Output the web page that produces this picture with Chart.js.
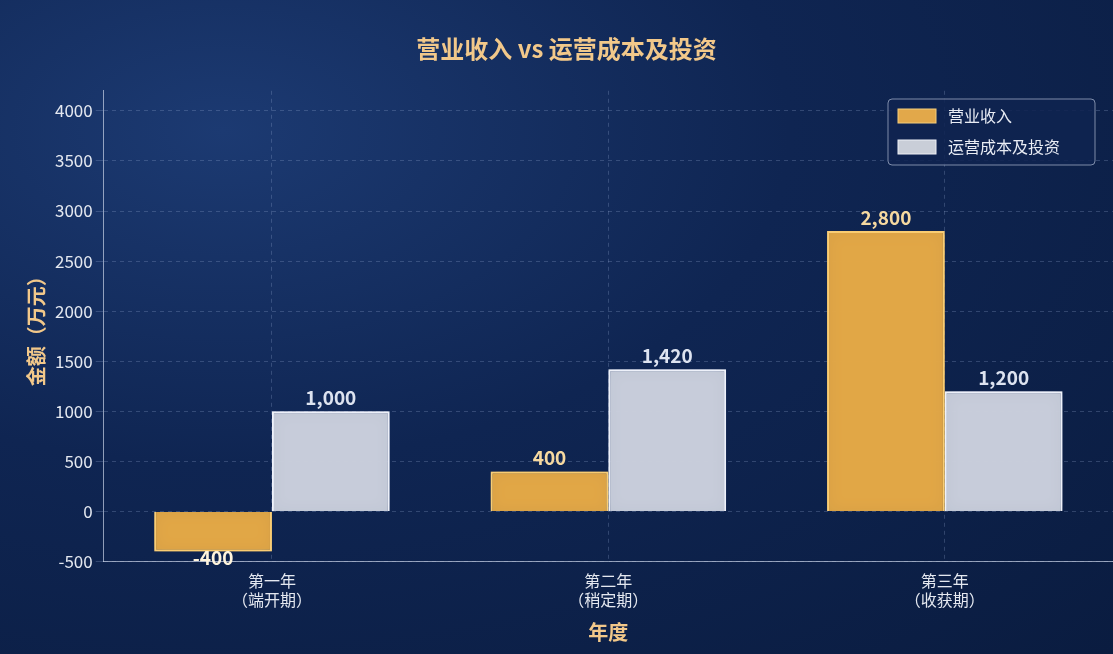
<!DOCTYPE html>
<html><head><meta charset="utf-8">
<script src="https://cdn.jsdelivr.net/npm/chart.js@4"></script>
<style>
html,body{margin:0;padding:0;width:1113px;height:654px;overflow:hidden;
background:radial-gradient(ellipse at 20% 20%,#1c3a72 0%,#0f2552 45%,#0a1c40 100%);}
#c{width:1113px;height:654px}
</style></head><body>
<canvas id="c" width="1113" height="654"></canvas>
<script>
const categories=[['第一年','（端开期）'],['第二年','（稍定期）'],['第三年','（收获期）']];
const revenue=[-400,400,2800];
const costs=[1000,1420,1200];
const seriesNames=['营业收入','运营成本及投资'];
const FONT='"Noto Sans CJK SC","Noto Sans",sans-serif';
const glow={id:'glow',
 beforeDatasetDraw(ch,a){const c=ch.ctx;c.save();c.shadowBlur=14;c.shadowColor=a.index===0?'rgba(255,200,90,0.9)':'rgba(230,235,255,0.8)';},
 afterDatasetDraw(ch){ch.ctx.restore();},
 afterDatasetsDraw(ch){const c=ch.ctx;c.save();c.font='bold 19px '+FONT;c.textAlign='center';
  ch.data.datasets.forEach((d,i)=>{ch.getDatasetMeta(i).data.forEach((b,j)=>{const v=d.data[j];
   c.fillStyle=i===0?(v<0?'#fff4dc':'#f6d9a0'):'#dde3f0';
   const t=v.toLocaleString('en-US');
   if(v<0){c.textBaseline='middle';c.fillText(t,b.x,b.y+6);}else{c.textBaseline='bottom';c.fillText(t,b.x,b.y-4);}
  });});
  const x=888,y=99,w=207,h=66;c.fillStyle='rgba(15,35,80,0.85)';c.strokeStyle='rgba(200,210,230,0.6)';c.lineWidth=1;
  c.beginPath();c.roundRect(x,y,w,h,4);c.fill();c.stroke();
  c.font='16px '+FONT;c.textAlign='left';c.textBaseline='middle';
  [['#e2a84a','#f5cd7a'],['#c9ced8','#eef0f5']].forEach((col,i)=>{const yy=y+17+i*31;
   c.fillStyle=col[0];c.strokeStyle=col[1];c.fillRect(x+10,yy-7,38,14);c.strokeRect(x+10,yy-7,38,14);
   c.fillStyle='#e8ecf4';c.fillText(seriesNames[i],x+60,yy);});
  c.restore();}};
new Chart(document.getElementById('c'),{type:'bar',
 data:{labels:categories,datasets:[
  {label:seriesNames[0],data:revenue,backgroundColor:'rgba(226,166,70,0.95)',borderColor:'#f7cf80',borderWidth:2},
  {label:seriesNames[1],data:costs,backgroundColor:'rgba(200,206,218,0.95)',borderColor:'#f2f4f8',borderWidth:2}]},
 options:{responsive:false,animation:false,devicePixelRatio:1,
  layout:{padding:{top:20,right:0,left:20,bottom:6}},
  categoryPercentage:0.7,barPercentage:1,
  plugins:{legend:{display:false},tooltip:{enabled:false},
   title:{display:true,text:'营业收入 vs 运营成本及投资',color:'#f2c88a',font:{family:FONT,size:24,weight:'bold'},padding:{top:14,bottom:28}}},
  scales:{
   x:{offset:true,grid:{offset:false,display:true,color:'rgba(160,180,220,0.25)',drawTicks:false,tickBorderDash:[4,4]},border:{color:'rgba(200,210,230,0.7)',dash:[4,4]},
    ticks:{color:'#e4e8f0',font:{family:FONT,size:16},padding:10},
    title:{display:true,text:'年度',color:'#f2c88a',font:{family:FONT,size:20,weight:'bold'},padding:{top:0}}},
   y:{min:-500,max:4200,grid:{color:'rgba(160,180,220,0.25)'},border:{color:'rgba(200,210,230,0.7)',dash:[4,4]},
    afterBuildTicks(s){s.ticks=[-500,0,500,1000,1500,2000,2500,3000,3500,4000].map(v=>({value:v}));},
    ticks:{color:'#e4e8f0',font:{family:FONT,size:17},callback:v=>String(v)},
    title:{display:true,text:'金额（万元）',color:'#f2c88a',font:{family:FONT,size:20,weight:'bold'}}}}},
 plugins:[glow]});
</script></body></html>
